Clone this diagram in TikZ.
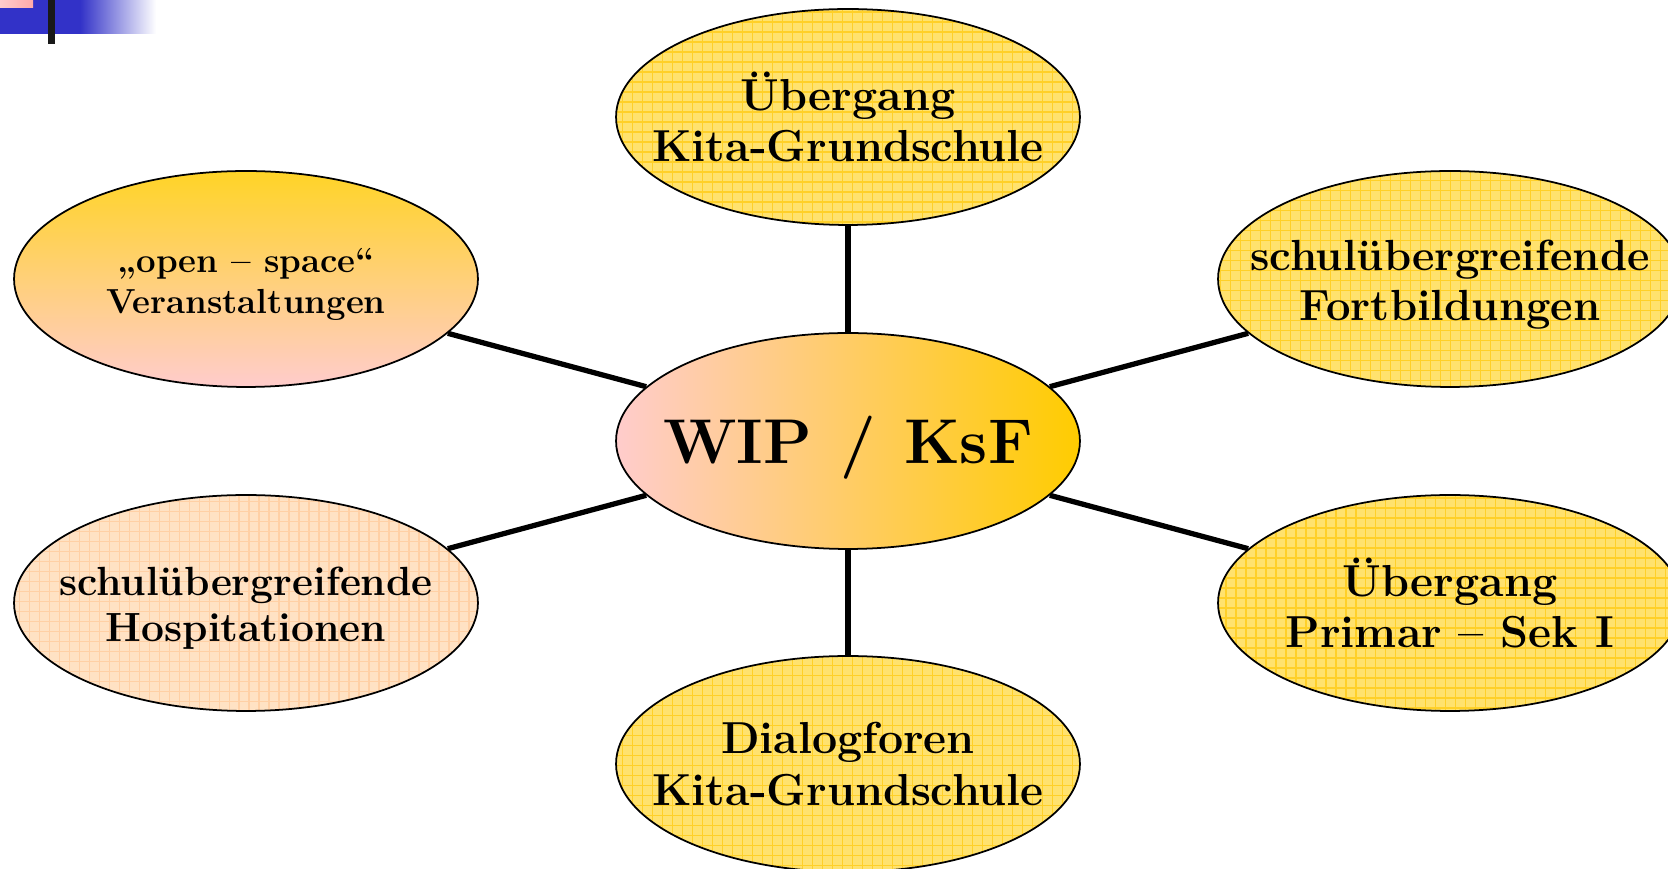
\documentclass[tikz,border=0pt]{standalone}
\usetikzlibrary{shapes.geometric}
\definecolor{barblue}{RGB}{50,50,200}
\definecolor{flagpink}{RGB}{255,170,170}
\definecolor{rosa}{RGB}{255,204,204}
\definecolor{gold}{RGB}{255,204,0}
\definecolor{lemon}{RGB}{255,226,110}
\definecolor{lemongrid}{RGB}{255,208,40}
\definecolor{peach}{RGB}{255,226,196}
\definecolor{peachgrid}{RGB}{255,208,165}
\tikzset{
	blob/.style={ellipse, draw, line width=1pt, minimum width=9.28cm, minimum height=4.32cm, inner xsep=-2.5cm, inner ysep=-.8cm, align=center, font=\fontsize{25.5}{29.5}\selectfont\bfseries},
	gridfill/.style 2 args={fill=#1, path picture={\draw[#2, line width=.7pt, step=.2cm](path picture bounding box.south west) grid (path picture bounding box.north east);}},
	spoke/.style={line width=3pt}
}
\begin{document}
\begin{tikzpicture}[x=.02cm, y=.02cm]
		\useasboundingbox(0, 0) rectangle (1668, 869);
		\clip(0, 0) rectangle (1668, 869);
		\fill[barblue](0, 835) rectangle (80, 869);
		\shade[left color=barblue, right color=white](80, 835) rectangle (156, 869);
		\shade[left color=rosa, right color=flagpink](0, 861) rectangle (33, 869);
		\fill[black!90](48, 825) rectangle (55, 869);
		\node[blob, left color=rosa, right color=gold, font=\fontsize{36}{42}\selectfont\bfseries](hub)at(848, 428){\rule{0pt}{35pt}WIP\hspace{.45em}/\hspace{.45em}KsF};
		\node[blob, gridfill={lemon}{lemongrid}](kita)at(848, 752){Übergang\\Kita-Grundschule};
		\node[blob, top color=gold!85!white, bottom color=rosa, font=\fontsize{19.8}{23}\selectfont\bfseries](open)at(246, 590){\rule{0pt}{20pt}„open – space“\\Veranstaltungen};
		\node[blob, gridfill={lemon}{lemongrid}, font=\fontsize{24.8}{28.5}\selectfont\bfseries](fort)at(1450, 590){\rule{0pt}{23.5pt}schulübergreifende\\Fortbildungen};
		\node[blob, gridfill={peach}{peachgrid}, font=\fontsize{23.2}{26.5}\selectfont\bfseries](hosp)at(246, 266){\rule{0pt}{22pt}schulübergreifende\\Hospitationen};
		\node[blob, gridfill={lemon}{lemongrid}](sek)at(1450, 266){Übergang\\Primar – Sek I};
		\node[blob, gridfill={lemon}{lemongrid}](dial)at(848, 105){Dialogforen\\Kita-Grundschule};
		\foreach \n in {kita, open, fort, hosp, sek, dial}
			\draw[spoke](hub)--(\n);
	\end{tikzpicture}
\end{document}
